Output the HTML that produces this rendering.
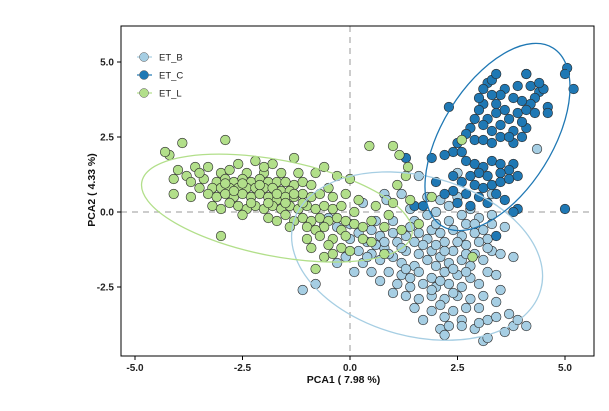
<!DOCTYPE html>
<html><head><meta charset="utf-8"><style>
body{margin:0;background:#fff;width:609px;height:406px;overflow:hidden}
svg text{font-family:"Liberation Sans",sans-serif}
</style></head><body>
<svg id="chart" width="609" height="406" viewBox="0 0 609 406" xmlns="http://www.w3.org/2000/svg"></svg>
<script>
const xTicks=[-5.0,-2.5,0.0,2.5,5.0];
const yTicks=[-2.5,0.0,2.5,5.0];
const tickLabels={x:["-5.0","-2.5","0.0","2.5","5.0"],y:["-2.5","0.0","2.5","5.0"]};
const seriesNames=["ET_B","ET_C","ET_L"];
const seriesColors=["#a6cee3","#1f78b4","#b2df8a"];
const ptsB=[[0.3,0.3],[0.8,0.6],[0.85,0.4],[1.8,0.5],[2.1,0.4],[2.3,0.2],[2.6,-0.1],[2.8,0.1],[2.0,0.0],[1.8,-0.1],[1.4,0.1],[3.0,-0.2],[3.3,-0.1],[1.5,-0.3],[2.3,-0.3],[2.7,-0.4],
[-0.6,-0.4],[-0.3,-0.5],[0.2,-0.7],[0.5,-0.6],[0.7,-0.8],[1.0,-0.7],[1.3,-0.8],[1.6,-0.7],[1.9,-0.6],[2.1,-0.7],[2.4,-0.6],[2.6,-0.8],[2.9,-0.7],[3.1,-0.6],[3.2,-0.9],[1.8,-0.9],[2.2,-1.0],[0.0,-0.9],[0.4,-1.0],[1.1,-1.0],[1.5,-1.0],[2.7,-1.1],[3.0,-1.0],
[-0.1,-1.5],[0.2,-1.3],[0.5,-1.4],[0.8,-1.2],[1.0,-1.5],[1.3,-1.3],[1.6,-1.4],[1.9,-1.3],[2.1,-1.5],[2.4,-1.3],[2.6,-1.6],[2.9,-1.4],[3.1,-1.6],[3.3,-1.3],[0.3,-1.7],[0.7,-1.6],[1.2,-1.7],[1.5,-1.8],[2.0,-1.8],[2.3,-1.7],[2.8,-1.8],[-0.3,-1.7],
[0.1,-2.0],[0.5,-2.0],[0.9,-2.0],[1.2,-2.1],[1.6,-2.0],[1.9,-2.2],[2.2,-2.0],[2.5,-2.1],[2.8,-2.2],[3.2,-2.0],[3.4,-2.1],[0.7,-2.3],[1.1,-2.4],[1.4,-2.5],[1.7,-2.4],[2.0,-2.5],[2.3,-2.4],[2.6,-2.5],[3.0,-2.4],[1.0,-2.7],[-1.1,-2.6],[-0.8,-2.4],[3.5,-2.6],
[1.3,-2.8],[1.6,-2.9],[1.9,-2.8],[2.2,-2.9],[2.5,-2.8],[2.8,-2.9],[3.1,-2.8],[1.5,-3.2],[1.9,-3.3],[2.1,-3.1],[2.4,-3.3],[2.7,-3.2],[3.0,-3.2],[3.4,-3.0],[2.6,-3.6],[3.2,-3.6],[2.2,-3.5],[1.7,-3.6],
[2.1,-3.9],[2.3,-3.8],[2.6,-3.8],[2.9,-3.9],[3.0,-3.7],[2.2,-4.1],[3.1,-4.3],[3.2,-4.2],[3.6,-4.0],[3.8,-3.8],[3.9,-3.6],[4.1,-3.8],[3.7,-3.4],[3.4,-3.5],
[4.35,2.1],[3.0,1.3],[2.5,1.3],[1.6,1.2],[3.3,0.6],[2.5,0.5],[-0.5,-0.2],[0.6,-0.3],[1.0,-0.3],[1.2,0.6],[1.4,-0.5],[2.0,-0.4],[3.6,-0.5],[3.5,-1.4],[3.8,-1.5],[0.8,-1.0],[1.3,-1.9],[2.4,-1.9],
[0.6,-1.1],[0.9,-1.4],[1.2,-1.2],[1.7,-1.1],[2.0,-1.1],[2.5,-1.0],[0.4,-1.5],[1.4,-2.2],[1.8,-1.6],[2.2,-1.3],[2.7,-1.4],[3.2,-1.2],[1.9,-2.6],[2.4,-2.7],[2.1,-2.3],[2.7,-2.0],[3.3,-0.4],[2.9,-0.4],[0.0,-0.4]];
const ptsC=[[3.2,4.3],[3.3,4.4],[3.6,4.1],[3.9,4.2],[4.1,4.6],[4.4,4.0],[4.5,4.1],[4.3,3.8],[4.2,3.6],[4.0,3.7],[3.8,3.8],[3.5,3.9],[3.4,3.6],[3.1,3.6],[3.0,3.4],[2.9,3.1],[3.2,3.1],[3.4,3.3],[3.6,3.4],[3.7,3.1],[3.9,3.3],[4.1,3.4],[4.3,3.3],[4.6,3.5],[4.6,3.3],[3.5,2.9],[3.8,2.7],[4.0,2.5],[3.8,2.3],[4.1,2.8],[3.3,2.7],[3.1,2.9],[2.8,2.8],[2.7,2.6],[2.9,2.4],[3.1,2.4],[3.3,2.3],[2.5,2.3],[2.4,2.0],[2.6,2.0],[2.2,1.9],[3.5,2.5],[3.7,2.5],[4.0,3.0],[3.0,3.8],[3.3,3.9],[4.2,4.2],[4.4,4.3],
[2.7,1.7],[2.9,1.6],[3.1,1.5],[3.3,1.7],[3.5,1.6],[3.8,1.6],[3.7,1.4],[3.5,1.3],[3.2,1.2],[3.0,1.3],[2.8,1.2],[2.6,1.0],[2.9,0.9],[3.1,0.8],[3.3,0.9],[3.5,1.0],[3.7,1.1],[3.9,1.2],[3.4,0.6],[3.0,0.5],[2.7,0.6],[2.4,0.7],[2.2,0.6],[2.5,0.3],[2.8,0.2],[3.2,0.3],[3.6,0.4],[3.9,0.1],[3.4,-0.8],[3.8,0.0],[2.0,1.0],[2.4,1.2],[1.3,1.8],[1.9,1.8],[1.5,0.2],[1.7,0.2],[5.0,0.1],[5.05,4.8],[5.2,4.1],[5.0,4.6],[2.3,3.5],[3.4,4.6],[4.1,4.6],[3.1,4.1]];
const ptsL=[[-4.2,1.9],[-4.3,2.0],[-3.9,2.3],[-2.9,2.4],[0.45,2.2],[1.0,2.2],[1.15,1.9],[1.35,1.5],[2.6,2.4],
[-4.0,1.4],[-3.6,1.5],[-3.3,1.5],[-2.6,1.6],[-2.2,1.7],[-1.8,1.6],[-1.3,1.8],[-3.0,1.3],[-2.8,1.4],[-2.4,1.3],[-2.0,1.3],[-1.6,1.3],[-1.2,1.3],[-0.8,1.3],[-0.6,1.5],[-0.3,1.2],[0.0,1.1],[-3.8,1.2],
[-4.1,1.1],[-3.7,1.0],[-3.4,1.1],[-3.1,1.0],[-2.9,1.1],[-2.7,1.0],[-2.5,1.1],[-2.3,1.0],[-2.1,1.1],[-1.9,1.0],[-1.7,1.0],[-1.5,1.0],[-1.3,0.9],[-1.1,1.0],[-0.9,0.9],[-3.5,0.8],[-3.2,0.8],[-3.0,0.8],[-2.8,0.8],[-2.6,0.8],[-2.4,0.8],[-2.2,0.8],[-2.0,0.8],[-1.8,0.8],[-1.6,0.7],[-1.4,0.7],[-0.5,0.8],[1.1,0.9],[1.3,1.2],
[-4.1,0.6],[-3.3,0.6],[-3.1,0.5],[-2.9,0.6],[-2.7,0.5],[-2.5,0.6],[-2.3,0.5],[-2.1,0.6],[-1.9,0.5],[-1.7,0.4],[-1.5,0.5],[-1.3,0.5],[-1.1,0.6],[-0.9,0.5],[-0.7,0.6],[-0.4,0.5],[-0.1,0.6],[0.2,0.4],[-2.8,0.3],[-3.7,0.5],[1.4,0.4],[1.9,0.5],
[-3.2,0.2],[-3.0,0.1],[-2.6,0.2],[-2.4,0.1],[-2.2,0.2],[-2.0,0.1],[-1.8,0.2],[-1.6,0.1],[-1.4,0.2],[-1.2,0.1],[-1.0,0.2],[-0.8,0.1],[-0.6,0.2],[-0.4,0.1],[-0.2,0.2],[0.1,0.0],[-2.5,-0.1],[-1.5,-0.1],[0.6,0.2],[1.0,0.3],[0.9,-0.1],[1.6,-0.4],
[-1.9,-0.2],[-1.7,-0.3],[-1.3,-0.3],[-1.1,-0.2],[-0.9,-0.3],[-0.7,-0.2],[-0.5,-0.3],[-0.3,-0.2],[-0.1,-0.3],[0.1,-0.4],[-1.4,-0.5],[-1.0,-0.5],[-0.6,-0.5],[-0.2,-0.6],[0.3,-0.5],[0.8,-0.5],[1.2,-0.6],[-0.8,-0.6],[0.5,-0.3],
[-3.0,-0.8],[-1.0,-0.9],[-0.7,-0.8],[-0.4,-0.9],[-0.1,-0.8],[0.3,-0.9],[-0.9,-1.2],[-0.5,-1.1],[-0.2,-1.2],[0.0,-1.3],[-0.6,-1.5],[0.5,-1.0],[0.8,-1.4],[-0.4,-1.4],[-0.8,-1.9],[2.85,-1.5],
[-2.7,0.7],[-2.3,0.3],[-1.9,0.3],[-1.5,0.3],[-1.1,0.3],[-2.9,0.95],[-2.5,0.95],[-2.1,0.9],[-1.7,0.6],[-1.3,0.6],[-3.5,1.3],[-2.0,1.5]];
// ellipses: center x, center y, semi-axis a (x data units), semi-axis b (y data units), angle (deg, screen)
const ellipseB=[1.56,-1.47,2.98,2.67,15];
const ellipseC=[3.43,2.5,2.44,1.83,-58];
const ellipseL=[-1.7,0.13,3.2,1.6,11];

const L=121,R=594,T=26,B=356,X0=350,Y0=212,PX=43,PY=30;
const sx=v=>X0+v*PX, sy=v=>Y0-v*PY;
const NS="http://www.w3.org/2000/svg";
const svg=document.getElementById('chart');
function mk(tag,attrs,parent){const e=document.createElementNS(NS,tag);for(const k in attrs)e.setAttribute(k,attrs[k]);(parent||svg).appendChild(e);return e;}

const plot=mk('g',{});


const zx=mk('line',{x1:sx(0),x2:sx(0),y1:T,y2:B,stroke:'#bbb','stroke-width':1.5,'stroke-dasharray':'6,5'},plot);


const zy=mk('line',{x1:L,x2:R,y1:sy(0),y2:sy(0),stroke:'#bbb','stroke-width':1.5,'stroke-dasharray':'6,5'},plot);



const groups=[ptsB,ptsC,ptsL];
groups.forEach((pts,gi)=>{
  const g=mk('g',{},plot);
  
  
  pts.forEach(p=>{
    const c=mk('circle',{cx:sx(p[0]),cy:sy(p[1]),r:4.8,fill:seriesColors[gi],stroke:'#2a2a2a','stroke-width':0.6},g);
    
    
  });
});
[ellipseB,ellipseC,ellipseL].forEach((e,gi)=>{
  const el=mk('ellipse',{cx:sx(e[0]),cy:sy(e[1]),rx:e[2]*PX,ry:e[3]*PY,fill:'none',stroke:seriesColors[gi],'stroke-width':1.3,transform:`rotate(${e[4]} ${sx(e[0])} ${sy(e[1])})`},plot);
  
  
});
const frame=mk('rect',{x:L,y:T,width:R-L,height:B-T,fill:'none',stroke:'#000','stroke-width':1});



xTicks.forEach((v,i)=>{
  const t=mk('line',{x1:sx(v),x2:sx(v),y1:B,y2:B+4,stroke:'#000'});
  
  
  const tx=mk('text',{x:sx(v),y:B+15,'text-anchor':'middle','font-size':10,'font-weight':'bold',fill:'#222'});
  tx.textContent=tickLabels.x[i];
  
  
});
yTicks.forEach((v,i)=>{
  const t=mk('line',{x1:L-4,x2:L,y1:sy(v),y2:sy(v),stroke:'#000'});
  
  
  const tx=mk('text',{x:L-7,y:sy(v)+3.5,'text-anchor':'end','font-size':10,'font-weight':'bold',fill:'#222'});
  tx.textContent=tickLabels.y[i];
  
  
});
const xt=mk('text',{x:(L+R)/2-14,y:383,'text-anchor':'middle','font-size':10.5,'font-weight':'bold',fill:'#111'});
xt.textContent='PCA1 ( 7.98 %)';


const yt=mk('text',{x:0,y:0,'text-anchor':'middle','font-size':10.5,'font-weight':'bold',fill:'#111',transform:'translate(95,190) rotate(-90)'});
yt.textContent='PCA2 ( 4.33 %)';



seriesNames.forEach((n,i)=>{
  const g=mk('g',{});
  
  
  const y=57+i*18;
  mk('line',{x1:137,x2:152,y1:y,y2:y,stroke:seriesColors[i],'stroke-width':1.2},g);
  mk('circle',{cx:144,cy:y,r:4.5,fill:seriesColors[i],stroke:'#555','stroke-width':0.5},g);
  const t=mk('text',{x:159,y:y+3.5,'font-size':9.5,fill:'#222'},g);
  t.textContent=n;
});
</script>
</body></html>
